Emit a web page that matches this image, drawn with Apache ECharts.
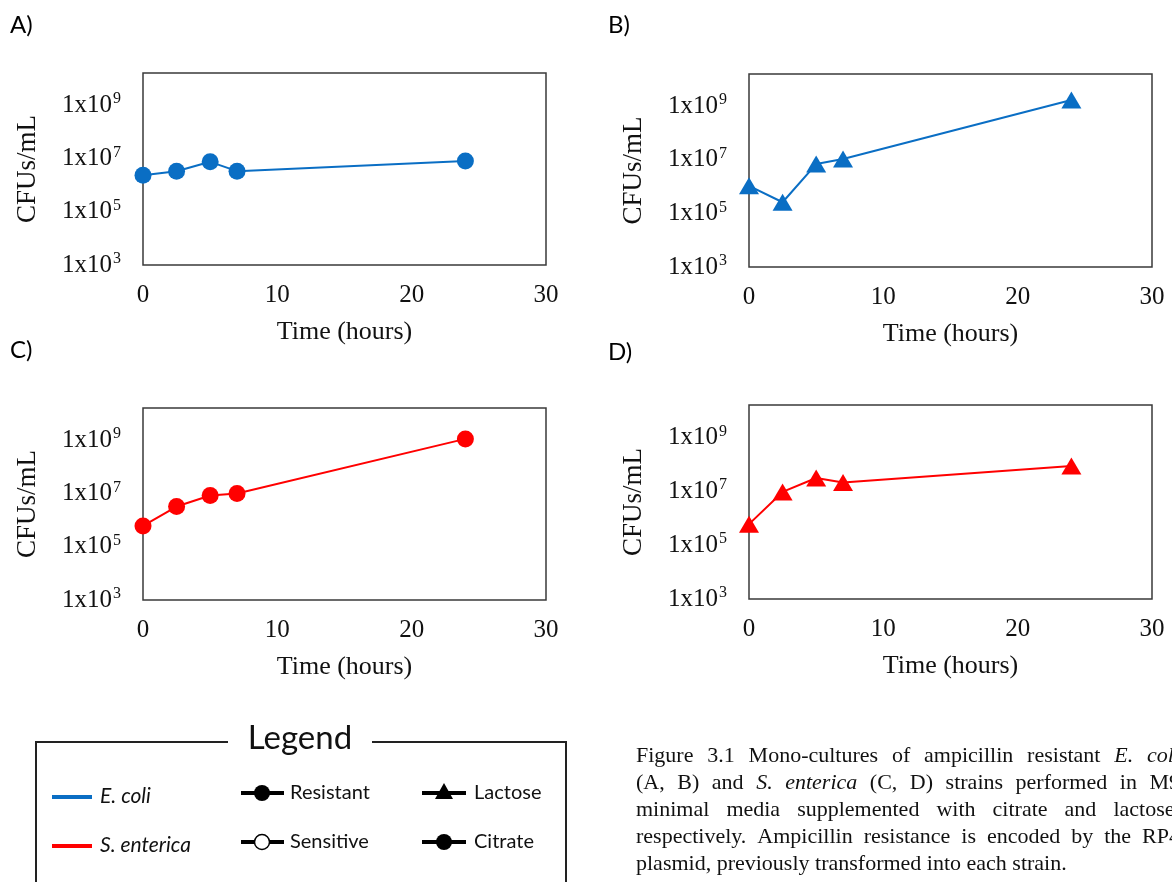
<!DOCTYPE html>
<html>
<head>
<meta charset="utf-8">
<script src="https://cdn.jsdelivr.net/npm/echarts@6/dist/echarts.min.js"></script>
<style>
  html, body { margin: 0; padding: 0; background: #fff; }
  #chart { width: 1172px; height: 882px; }
</style>
</head>
<body>
<div id="chart"></div>
<script>
// sampling times (hours)
const hours = [0, 2.5, 5, 7, 24];
// CFUs/mL
const ecoliCitrate = [2.3e6, 3.3e6, 7.4e6, 3.3e6, 7.9e6];      // A
const ecoliLactose = [1.07e6, 2.6e5, 6.9e6, 1.07e7, 1.7e9];     // B
const entericaCitrate = [6.0e5, 3.2e6, 8.3e6, 9.8e6, 1.1e9];    // C
const entericaLactose = [6.0e5, 9.4e6, 3.1e7, 2.1e7, 8.7e7];    // D
const xTicks = [0, 10, 20, 30];
const yLabelExps = [3, 5, 7, 9];
const panelNames = ['A)', 'B)', 'C)', 'D)'];
const legendSpecies = ['E. coli', 'S. enterica'];
const legendTypes = ['Resistant', 'Sensitive'];
const legendMedia = ['Lactose', 'Citrate'];
const captionLines = [
  'Figure 3.1 Mono-cultures of ampicillin resistant *E. *coli',
  '(A, B) and *S. *enterica (C, D) strains performed in M9',
  'minimal media supplemented with citrate and lactose,',
  'respectively. Ampicillin resistance is encoded by the RP4',
  'plasmid, previously transformed into each strain.'
];

const BLUE = '#0a6ec4';
const RED = '#ff0000';
const SERIF = '"Liberation Serif", "Times New Roman", serif';
const SANS = 'Lato, "Noto Sans", sans-serif';

const panels = [
  { grid: { left: 143, top: 73, width: 403, height: 192 }, data: ecoliCitrate, color: BLUE, symbol: 'circle' },
  { grid: { left: 749, top: 74, width: 403, height: 193 }, data: ecoliLactose, color: BLUE, symbol: 'triangle' },
  { grid: { left: 143, top: 408, width: 403, height: 192 }, data: entericaCitrate, color: RED, symbol: 'circle' },
  { grid: { left: 749, top: 405, width: 403, height: 194 }, data: entericaLactose, color: RED, symbol: 'triangle' }
];

const chart = echarts.init(document.getElementById('chart'));

const grids = panels.map(p => Object.assign({
  show: true, borderColor: '#3a3a3a', borderWidth: 1.5, backgroundColor: 'transparent'
}, p.grid));

const xAxes = panels.map((p, i) => ({
  type: 'value', gridIndex: i, min: xTicks[0], max: xTicks[xTicks.length - 1], interval: 10,
  name: 'Time (hours)', nameLocation: 'middle', nameGap: 54,
  nameTextStyle: { fontFamily: SERIF, fontSize: 26, color: '#111' },
  axisLine: { show: false }, axisTick: { show: false }, splitLine: { show: false },
  axisLabel: { margin: 18, fontFamily: SERIF, fontSize: 25, color: '#111' }
}));

const yAxes = panels.map((p, i) => ({
  type: 'log', logBase: 10, gridIndex: i, min: 1e3, max: 1.585e10,
  name: 'CFUs/mL', nameLocation: 'middle', nameGap: 102, nameRotate: 90,
  nameTextStyle: { fontFamily: SERIF, fontSize: 27, color: '#111' },
  axisLine: { show: false }, axisTick: { show: false }, splitLine: { show: false },
  axisLabel: {
    margin: 22,
    formatter: v => {
      const e = Math.log10(v), r = Math.round(e);
      if (Math.abs(e - r) > 0.01 || yLabelExps.indexOf(r) < 0) return '';
      return '{b|1x10}{s|' + r + '}';
    },
    rich: {
      b: { fontFamily: SERIF, fontSize: 25, color: '#111', lineHeight: 28 },
      s: { fontFamily: SERIF, fontSize: 16, color: '#111', lineHeight: 16, verticalAlign: 'top', padding: [0, 0, 0, 1] }
    }
  }
}));

const series = panels.map((p, i) => ({
  type: 'line', xAxisIndex: i, yAxisIndex: i,
  data: hours.map((h, k) => [h, p.data[k]]),
  symbol: p.symbol, symbolSize: p.symbol === 'circle' ? 17 : [20, 17],
  showAllSymbol: true, clip: false, z: 5,
  lineStyle: { color: p.color, width: 2 },
  itemStyle: { color: p.color, borderWidth: 0 }
}));

// ---- graphic: panel letters, legend box, caption ----
const graphic = [];
const letterPos = [[10, 25], [608, 25], [10, 350], [608, 352]];
panelNames.forEach((t, i) => graphic.push({
  type: 'text', x: letterPos[i][0], y: letterPos[i][1],
  style: { text: t, font: '24px ' + SANS, fill: '#000', textVerticalAlign: 'middle' }
}));

// legend frame with a gap for the title
graphic.push({ type: 'polyline', shape: { points: [[228, 742], [36, 742], [36, 900]] }, style: { stroke: '#222', lineWidth: 2, fill: null } });
graphic.push({ type: 'polyline', shape: { points: [[372, 742], [566, 742], [566, 900]] }, style: { stroke: '#222', lineWidth: 2, fill: null } });
graphic.push({ type: 'text', x: 300, y: 738, style: { text: 'Legend', font: '33px ' + SANS, fill: '#111', textAlign: 'center', textVerticalAlign: 'middle' } });

const rowY = [795, 844];
[BLUE, RED].forEach((c, i) => {
  graphic.push({ type: 'line', shape: { x1: 52, y1: rowY[i] + 2, x2: 92, y2: rowY[i] + 2 }, style: { stroke: c, lineWidth: 4 } });
  graphic.push({ type: 'text', x: 100, y: rowY[i] + 1, style: { text: legendSpecies[i], font: 'italic 21px ' + SANS, fill: '#111', textVerticalAlign: 'middle' } });
});
// resistant / sensitive
legendTypes.forEach((t, i) => {
  const y = rowY[i] - 2;
  graphic.push({ type: 'line', shape: { x1: 241, y1: y, x2: 284, y2: y }, style: { stroke: '#000', lineWidth: 4 } });
  graphic.push({ type: 'circle', shape: { cx: 262, cy: y, r: i === 0 ? 8 : 7.5 }, style: { fill: i === 0 ? '#000' : '#fff', stroke: '#000', lineWidth: i === 0 ? 0 : 1.5 } });
  graphic.push({ type: 'text', x: 290, y: y, style: { text: t, font: '20px ' + SANS, fill: '#111', textVerticalAlign: 'middle' } });
});
// lactose / citrate
legendMedia.forEach((t, i) => {
  const y = rowY[i] - 2;
  graphic.push({ type: 'line', shape: { x1: 422, y1: y, x2: 466, y2: y }, style: { stroke: '#000', lineWidth: 4 } });
  if (i === 0) {
    graphic.push({ type: 'polygon', shape: { points: [[444, y - 10], [435, y + 6], [453, y + 6]] }, style: { fill: '#000' } });
  } else {
    graphic.push({ type: 'circle', shape: { cx: 444, cy: y, r: 8 }, style: { fill: '#000' } });
  }
  graphic.push({ type: 'text', x: 474, y: y, style: { text: t, font: '20px ' + SANS, fill: '#111', textVerticalAlign: 'middle' } });
});

// caption, justified like the original paragraph
const capFont = 22;
const capLeft = 636, capRight = 1180, capTop = 756, capStep = 27;
const ctx = document.createElement('canvas').getContext('2d');
captionLines.forEach((line, li) => {
  const words = line.split(' ').map(w => w.startsWith('*') ? { t: w.slice(1), it: true } : { t: w, it: false });
  const fonts = words.map(w => (w.it ? 'italic ' : '') + capFont + 'px ' + SERIF);
  const widths = words.map((w, k) => { ctx.font = fonts[k]; return ctx.measureText(w.t).width; });
  const total = widths.reduce((a, b) => a + b, 0);
  ctx.font = capFont + 'px ' + SERIF;
  const natural = ctx.measureText(' ').width;
  const last = li === captionLines.length - 1;
  const gap = last ? natural : Math.max(natural * 0.7, (capRight - capLeft - total) / (words.length - 1));
  let x = capLeft;
  words.forEach((w, k) => {
    graphic.push({ type: 'text', x: x, y: capTop + li * capStep, style: { text: w.t, font: fonts[k], fill: '#111', textVerticalAlign: 'middle' } });
    x += widths[k] + gap;
  });
});

chart.setOption({
  animation: false,
  backgroundColor: '#fff',
  grid: grids,
  xAxis: xAxes,
  yAxis: yAxes,
  series: series,
  graphic: graphic
});
</script>
</body>
</html>
